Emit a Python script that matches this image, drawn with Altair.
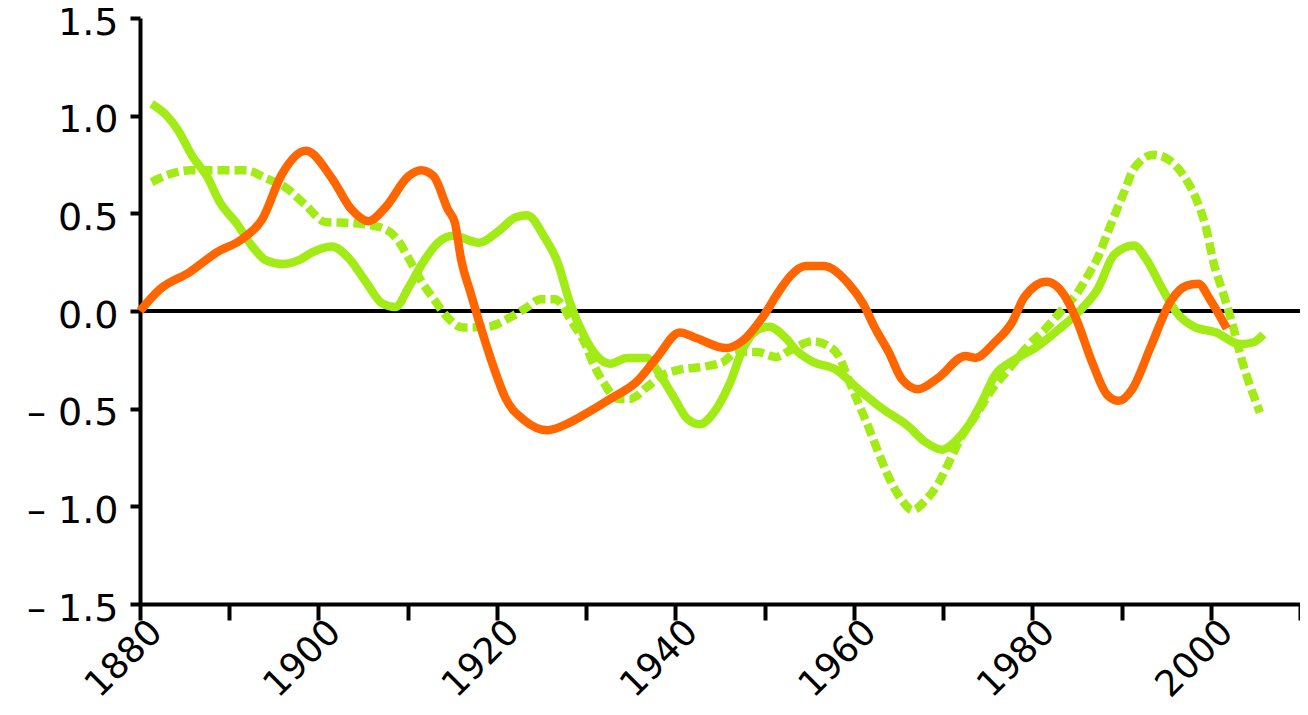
import altair as alt
import pandas as pd

# Orange series
orange_years = [1880.0, 1882.2, 1885.6, 1888.6, 1891.5, 1893.7, 1895.9, 1898.6, 1901.5, 1903.7,
                1905.6, 1907.5, 1910.1, 1911.5, 1912.9, 1914.5, 1915.3, 1916.0, 1917.0, 1917.9,
                1919.8, 1920.9, 1923.1, 1925.7, 1928.2, 1929.8, 1932.7, 1935.7, 1937.9, 1940.5,
                1942.4, 1945.7, 1947.6, 1949.8, 1951.6, 1952.9, 1954.6, 1956.6, 1959.4, 1961.0,
                1962.4, 1963.9, 1965.4, 1967.2, 1969.5, 1972.5, 1973.6, 1975.8, 1977.7, 1979.1,
                1981.6, 1983.6, 1985.0, 1986.6, 1988.4, 1989.7, 1991.2, 1993.3, 1995.5, 1997.3,
                1998.6, 1999.9, 2001.8]
orange_vals = [0.00, 0.11, 0.20, 0.30, 0.37, 0.47, 0.70, 0.82, 0.68, 0.52,
               0.46, 0.53, 0.69, 0.72, 0.69, 0.52, 0.45, 0.26, 0.10, -0.04,
               -0.31, -0.44, -0.56, -0.61, -0.57, -0.53, -0.45, -0.36, -0.24, -0.11,
               -0.14, -0.19, -0.15, -0.03, 0.10, 0.18, 0.23, 0.23, 0.14, 0.04,
               -0.09, -0.21, -0.35, -0.40, -0.34, -0.23, -0.24, -0.16, -0.06, 0.07,
               0.15, 0.08, -0.05, -0.25, -0.43, -0.46, -0.40, -0.18, 0.05, 0.13,
               0.14, 0.06, -0.09]

# Solid green series
green_years = [1881.3, 1883.0, 1884.2, 1885.9, 1887.5, 1888.9, 1890.8, 1892.6, 1894.1, 1896.0,
               1897.8, 1899.3, 1901.5, 1903.4, 1905.3, 1907.1, 1908.6, 1910.1, 1911.6, 1913.4,
               1915.1, 1918.0, 1920.2, 1922.1, 1923.4, 1925.3, 1926.8, 1928.2, 1929.8, 1931.2,
               1932.7, 1934.6, 1936.8, 1937.9, 1939.8, 1941.3, 1942.7, 1944.3, 1946.1, 1947.6,
               1949.1, 1950.5, 1952.4, 1953.5, 1955.4, 1958.0, 1960.5, 1963.2, 1966.1, 1968.0,
               1969.9, 1971.3, 1972.8, 1974.3, 1975.8, 1978.0, 1980.6, 1982.8, 1985.5, 1987.3,
               1989.2, 1991.4, 1992.7, 1994.5, 1996.2, 1998.1, 2000.6, 2003.3, 2004.8, 2005.9]
green_vals = [1.06, 1.00, 0.93, 0.79, 0.69, 0.56, 0.45, 0.33, 0.26, 0.24,
              0.26, 0.30, 0.33, 0.27, 0.15, 0.04, 0.02, 0.12, 0.24, 0.35,
              0.385, 0.35, 0.41, 0.48, 0.49, 0.38, 0.25, 0.04, -0.13, -0.23,
              -0.27, -0.24, -0.24, -0.30, -0.44, -0.55, -0.58, -0.52, -0.37, -0.19,
              -0.10, -0.08, -0.14, -0.20, -0.26, -0.30, -0.40, -0.50, -0.59, -0.67,
              -0.71, -0.67, -0.59, -0.47, -0.33, -0.25, -0.18, -0.10, 0.01, 0.11,
              0.29, 0.335, 0.27, 0.12, -0.01, -0.08, -0.11, -0.17, -0.16, -0.12]

# Dashed green series
dashed_years = [1881.3, 1883.3, 1885.6, 1888.9, 1891.9, 1894.1, 1896.4, 1898.6, 1900.8, 1903.7,
                1906.4, 1908.6, 1910.1, 1911.3, 1913.1, 1914.5, 1916.2, 1919.0, 1921.4, 1923.4,
                1924.9, 1926.5, 1927.6, 1928.2, 1929.8, 1930.9, 1932.0, 1933.5, 1934.9, 1936.8,
                1938.3, 1940.5, 1943.2, 1945.4, 1946.8, 1949.1, 1951.3, 1952.9, 1955.4, 1957.2,
                1958.3, 1959.4, 1960.5, 1961.6, 1962.8, 1963.9, 1965.4, 1966.6, 1968.0, 1969.5,
                1970.6, 1972.1, 1973.6, 1975.5, 1977.3, 1979.5, 1981.7, 1983.6, 1985.0, 1986.2,
                1987.3, 1988.6, 1990.3, 1991.4, 1993.6, 1995.1, 1997.0, 1998.4, 1999.5, 2000.3,
                2001.4, 2002.5, 2003.6, 2005.1, 2005.5]
dashed_vals = [0.66, 0.70, 0.72, 0.72, 0.72, 0.68, 0.63, 0.54, 0.455, 0.45,
               0.435, 0.38, 0.27, 0.17, 0.05, -0.035, -0.085, -0.08, -0.035, 0.02,
               0.06, 0.06, 0.01, -0.04, -0.16, -0.28, -0.37, -0.45, -0.45, -0.39,
               -0.335, -0.30, -0.285, -0.26, -0.21, -0.21, -0.235, -0.20, -0.155, -0.18,
               -0.23, -0.35, -0.47, -0.59, -0.73, -0.85, -0.97, -1.02, -0.97, -0.88,
               -0.78, -0.64, -0.54, -0.40, -0.30, -0.18, -0.08, 0.02, 0.09, 0.18,
               0.27, 0.42, 0.61, 0.73, 0.80, 0.78, 0.69, 0.57, 0.42, 0.25,
               0.09, -0.08, -0.27, -0.47, -0.52]

x_ticks = list(range(1880, 2011, 10))
y_ticks = [-1.5, -1.0, -0.5, 0.0, 0.5, 1.0, 1.5]

GREEN = "#a3eb16"
ORANGE = "#ff6600"
FONT = "DejaVu Sans"

x_scale = alt.Scale(domain=[1880, 2010], nice=False, zero=False)
y_scale = alt.Scale(domain=[-1.5, 1.5], nice=False, zero=False)

x_axis = alt.Axis(
    values=x_ticks, title=None, grid=False,
    labelExpr="datum.value % 20 == 0 ? format(datum.value, 'd') : ''",
    labelAngle=-45, labelAlign="right", labelBaseline="middle",
    labelOffset=16, labelPadding=6, labelFlush=False, labelOverlap=False,
    labelFont=FONT, labelFontSize=36, labelColor="black",
    tickSize=16, tickWidth=4, tickColor="black",
    domainWidth=4, domainColor="black",
)
y_axis = alt.Axis(
    values=y_ticks, title=None, grid=False,
    labelExpr="datum.value < 0 ? '\u2013 ' + format(-datum.value, '.1f') : format(datum.value, '.1f')",
    labelPadding=12, labelOffset=5, labelFlush=False, labelOverlap=False,
    labelFont=FONT, labelFontSize=38, labelColor="black",
    tickSize=10, tickWidth=4, tickColor="black",
    domainWidth=4, domainColor="black",
)

df_orange = pd.DataFrame({"year": orange_years, "value": orange_vals})
df_green = pd.DataFrame({"year": green_years, "value": green_vals})
df_dashed = pd.DataFrame({"year": dashed_years, "value": dashed_vals})
df_zero = pd.DataFrame({"value": [0.0]})

zero = alt.Chart(df_zero).mark_rule(color="black", strokeWidth=4).encode(
    y=alt.Y("value:Q", scale=y_scale, axis=y_axis)
)

dashed = alt.Chart(df_dashed).mark_line(
    color=GREEN, strokeWidth=8.5, strokeDash=[12, 5], interpolate="monotone"
).encode(
    x=alt.X("year:Q", scale=x_scale, axis=x_axis),
    y=alt.Y("value:Q", scale=y_scale, axis=y_axis),
)

green = alt.Chart(df_green).mark_line(
    color=GREEN, strokeWidth=8.5, interpolate="monotone"
).encode(
    x=alt.X("year:Q", scale=x_scale, axis=x_axis),
    y=alt.Y("value:Q", scale=y_scale, axis=y_axis),
)

orange = alt.Chart(df_orange).mark_line(
    color=ORANGE, strokeWidth=8.5, interpolate="monotone"
).encode(
    x=alt.X("year:Q", scale=x_scale, axis=x_axis),
    y=alt.Y("value:Q", scale=y_scale, axis=y_axis),
)

chart = alt.layer(zero, dashed, green, orange).properties(
    width=1160, height=586,
    autosize=alt.AutoSizeParams(type="none"),
    padding={"left": 132, "top": 10, "right": 0, "bottom": 103},
    background="white",
).configure_view(strokeWidth=0)

chart.save("out.html", embed_options={"renderer": "svg", "actions": False})
